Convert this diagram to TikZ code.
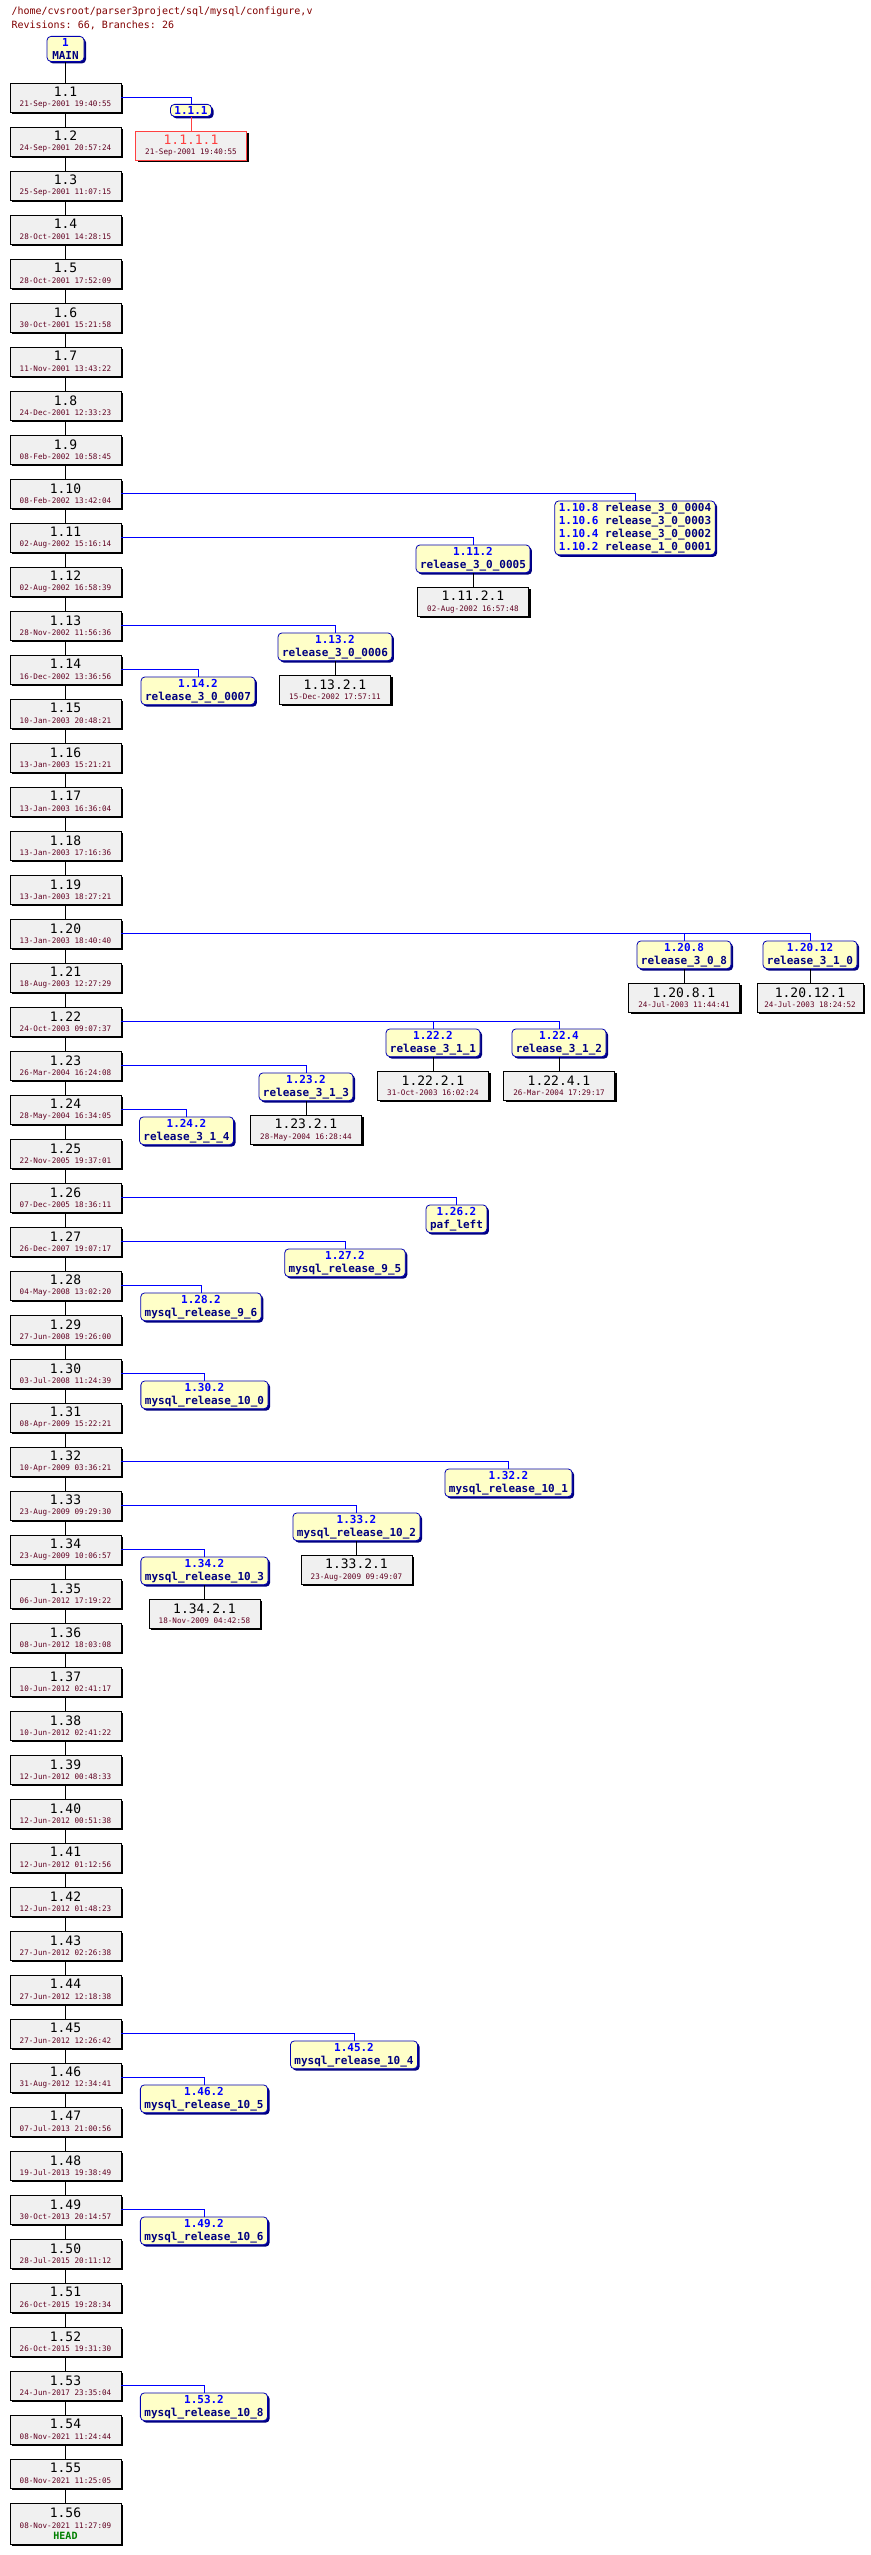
\documentclass[tikz,border=0pt]{standalone}
\usepackage{fontspec}
\setmonofont{DejaVu Sans Mono}
\usetikzlibrary{positioning,shadows}
\definecolor{bgrey}{HTML}{F0F0F0}
\definecolor{tagfill}{HTML}{FFFFC8}
\definecolor{tagnum}{HTML}{0000FF}
\definecolor{tagname}{HTML}{000080}
\definecolor{datec}{HTML}{600020}
\definecolor{titlec}{HTML}{800000}
\definecolor{deadred}{HTML}{FF4040}
\definecolor{headg}{HTML}{008000}
\newcommand\revf{\fontsize{13}{13}\selectfont\ttfamily}
\newcommand\datef{\fontsize{7.6}{8}\selectfont\ttfamily}
\newcommand\rv[2]{{\revf #1}\\[-1.5pt]{\color{datec}\datef #2}}
\newcommand\tg[2]{{\color{tagnum}#1}\\{#2}}
\tikzset{
  revbox/.style={draw=black,line width=0.8pt,fill=bgrey,minimum width=111pt,minimum height=29pt,inner xsep=4pt,inner ysep=0pt,align=center,
    drop shadow={shadow xshift=2pt,shadow yshift=-2pt,fill=black,opacity=1}},
  tagbox/.style={draw=tagname!60!blue,line width=0.8pt,fill=tagfill,rounded corners=4pt,inner xsep=4pt,inner ysep=2pt,align=center,anchor=north,
    font=\fontsize{11}{13}\selectfont\ttfamily\bfseries,text=tagname,
    drop shadow={shadow xshift=2pt,shadow yshift=-2pt,fill=tagname,opacity=1}},
  trunk/.style={draw=black,line width=0.8pt},
  brl/.style={draw=tagnum,line width=0.8pt},
  below14/.style={below=14pt of #1}
}
\begin{document}
\begin{tikzpicture}[x=1pt,y=-1pt]
\useasboundingbox (0,0) rectangle (870,2555);
\node[anchor=west,text=titlec,font=\fontsize{10}{10}\selectfont\ttfamily] (title1) at (8,12) {/home/cvsroot/parser3project/sql/mysql/configure,v};
\node[anchor=west,text=titlec,font=\fontsize{10}{10}\selectfont\ttfamily] (title2) at (8,25) {Revisions: 66, Branches: 26};
\node[tagbox,minimum width=37pt] (main) at (65.5,36) {\tg{1}{MAIN}};
\foreach \i/\d in {1/21-Sep-2001 19:40:55,2/24-Sep-2001 20:57:24,3/25-Sep-2001 11:07:15,4/28-Oct-2001 14:28:15,5/28-Oct-2001 17:52:09,6/30-Oct-2001 15:21:58,7/11-Nov-2001 13:43:22,8/24-Dec-2001 12:33:23,9/08-Feb-2002 10:58:45,10/08-Feb-2002 13:42:04,11/02-Aug-2002 15:16:14,12/02-Aug-2002 16:58:39,13/28-Nov-2002 11:56:36,14/16-Dec-2002 13:36:56,15/10-Jan-2003 20:48:21,16/13-Jan-2003 15:21:21,17/13-Jan-2003 16:36:04,18/13-Jan-2003 17:16:36,19/13-Jan-2003 18:27:21,20/13-Jan-2003 18:40:40,21/18-Aug-2003 12:27:29,22/24-Oct-2003 09:07:37,23/26-Mar-2004 16:24:08,24/28-May-2004 16:34:05,25/22-Nov-2005 19:37:01,26/07-Dec-2005 18:36:11,27/26-Dec-2007 19:07:17,28/04-May-2008 13:02:20,29/27-Jun-2008 19:26:00,30/03-Jul-2008 11:24:39,31/08-Apr-2009 15:22:21,32/10-Apr-2009 03:36:21,33/23-Aug-2009 09:29:30,34/23-Aug-2009 10:06:57,35/06-Jun-2012 17:19:22,36/08-Jun-2012 18:03:08,37/10-Jun-2012 02:41:17,38/10-Jun-2012 02:41:22,39/12-Jun-2012 00:48:33,40/12-Jun-2012 00:51:38,41/12-Jun-2012 01:12:56,42/12-Jun-2012 01:48:23,43/27-Jun-2012 02:26:38,44/27-Jun-2012 12:18:38,45/27-Jun-2012 12:26:42,46/31-Aug-2012 12:34:41,47/07-Jul-2013 21:00:56,48/19-Jul-2013 19:38:49,49/30-Oct-2013 20:14:57,50/28-Jul-2015 20:11:12,51/26-Oct-2015 19:28:34,52/26-Oct-2015 19:31:30,53/24-Jun-2017 23:35:04,54/08-Nov-2021 11:24:44,55/08-Nov-2021 11:25:05}
  \node[revbox] (r\i) at (65.5,{97.5+(\i-1)*44}) {\rv{1.\i}{\d}};
\node[revbox,minimum height=41pt] (r56) at (65.5,2523.5) {{\revf 1.56}\\[-1.5pt]{\color{datec}\datef 08-Nov-2021 11:27:09}\\[-1pt]{\color{headg}\fontsize{10}{10}\selectfont\ttfamily\bfseries HEAD}};
\draw[trunk] (main) -- (r1);
\foreach \i [evaluate=\i as \j using int(\i+1)] in {1,...,55}
  \draw[trunk] (r\i) -- (r\j);
% branch 1.1.1
\node[tagbox] (t111) at (191,104) {{\color{tagnum}1.1.1}};
\node[revbox,draw=deadred,below14=t111] (r1111) {{\revf\color{deadred}1.1.1.1}\\[-1.5pt]{\color{datec}\datef 21-Sep-2001 19:40:55}};
\draw[brl] (r1.east) -| (t111.north);
\draw[draw=deadred,line width=0.8pt] (t111) -- (r1111);
% 1.10
\node[tagbox,align=left] (t110) at (635,500.5) {{\color{tagnum}1.10.8} release\_3\_0\_0004\\{\color{tagnum}1.10.6} release\_3\_0\_0003\\{\color{tagnum}1.10.4} release\_3\_0\_0002\\{\color{tagnum}1.10.2} release\_1\_0\_0001};
\draw[brl] (r10.east) -| (t110.north);
% 1.11
\node[tagbox] (t1112) at (473,544.5) {\tg{1.11.2}{release\_3\_0\_0005}};
\node[revbox,below14=t1112] (r11121) {\rv{1.11.2.1}{02-Aug-2002 16:57:48}};
\draw[brl] (r11.east) -| (t1112.north);
\draw[trunk] (t1112) -- (r11121);
% 1.13
\node[tagbox] (t1132) at (335,632.5) {\tg{1.13.2}{release\_3\_0\_0006}};
\node[revbox,below14=t1132] (r11321) {\rv{1.13.2.1}{15-Dec-2002 17:57:11}};
\draw[brl] (r13.east) -| (t1132.north);
\draw[trunk] (t1132) -- (r11321);
% 1.14
\node[tagbox] (t1142) at (198,676.5) {\tg{1.14.2}{release\_3\_0\_0007}};
\draw[brl] (r14.east) -| (t1142.north);
% 1.20
\node[tagbox] (t1208) at (684,940.5) {\tg{1.20.8}{release\_3\_0\_8}};
\node[revbox,below14=t1208] (r12081) {\rv{1.20.8.1}{24-Jul-2003 11:44:41}};
\node[tagbox] (t12012) at (810,940.5) {\tg{1.20.12}{release\_3\_1\_0}};
\node[revbox,minimum width=106pt,below14=t12012] (r120121) {\rv{1.20.12.1}{24-Jul-2003 18:24:52}};
\draw[brl] (r20.east) -| (t1208.north);
\draw[brl] (r20.east) -| (t12012.north);
\draw[trunk] (t1208) -- (r12081);
\draw[trunk] (t12012) -- (r120121);
% 1.22
\node[tagbox] (t1222) at (433,1028.5) {\tg{1.22.2}{release\_3\_1\_1}};
\node[revbox,below14=t1222] (r12221) {\rv{1.22.2.1}{31-Oct-2003 16:02:24}};
\node[tagbox] (t1224) at (559,1028.5) {\tg{1.22.4}{release\_3\_1\_2}};
\node[revbox,below14=t1224] (r12241) {\rv{1.22.4.1}{26-Mar-2004 17:29:17}};
\draw[brl] (r22.east) -| (t1222.north);
\draw[brl] (r22.east) -| (t1224.north);
\draw[trunk] (t1222) -- (r12221);
\draw[trunk] (t1224) -- (r12241);
% 1.23
\node[tagbox] (t1232) at (306,1072.5) {\tg{1.23.2}{release\_3\_1\_3}};
\node[revbox,below14=t1232] (r12321) {\rv{1.23.2.1}{28-May-2004 16:28:44}};
\draw[brl] (r23.east) -| (t1232.north);
\draw[trunk] (t1232) -- (r12321);
% 1.24
\node[tagbox] (t1242) at (186.5,1116.5) {\tg{1.24.2}{release\_3\_1\_4}};
\draw[brl] (r24.east) -| (t1242.north);
% 1.26 - 1.34
\node[tagbox] (t1262) at (456.5,1204.5) {\tg{1.26.2}{paf\_left}};
\draw[brl] (r26.east) -| (t1262.north);
\node[tagbox] (t1272) at (345,1248.5) {\tg{1.27.2}{mysql\_release\_9\_5}};
\draw[brl] (r27.east) -| (t1272.north);
\node[tagbox] (t1282) at (201,1292.5) {\tg{1.28.2}{mysql\_release\_9\_6}};
\draw[brl] (r28.east) -| (t1282.north);
\node[tagbox] (t1302) at (204.5,1380.5) {\tg{1.30.2}{mysql\_release\_10\_0}};
\draw[brl] (r30.east) -| (t1302.north);
\node[tagbox] (t1322) at (508.5,1468.5) {\tg{1.32.2}{mysql\_release\_10\_1}};
\draw[brl] (r32.east) -| (t1322.north);
\node[tagbox] (t1332) at (356.5,1512.5) {\tg{1.33.2}{mysql\_release\_10\_2}};
\node[revbox,below14=t1332] (r13321) {\rv{1.33.2.1}{23-Aug-2009 09:49:07}};
\draw[brl] (r33.east) -| (t1332.north);
\draw[trunk] (t1332) -- (r13321);
\node[tagbox] (t1342) at (204.5,1556.5) {\tg{1.34.2}{mysql\_release\_10\_3}};
\node[revbox,below14=t1342] (r13421) {\rv{1.34.2.1}{18-Nov-2009 04:42:58}};
\draw[brl] (r34.east) -| (t1342.north);
\draw[trunk] (t1342) -- (r13421);
% 1.45 - 1.53
\node[tagbox] (t1452) at (354,2040.5) {\tg{1.45.2}{mysql\_release\_10\_4}};
\draw[brl] (r45.east) -| (t1452.north);
\node[tagbox] (t1462) at (204,2084.5) {\tg{1.46.2}{mysql\_release\_10\_5}};
\draw[brl] (r46.east) -| (t1462.north);
\node[tagbox] (t1492) at (204,2216.5) {\tg{1.49.2}{mysql\_release\_10\_6}};
\draw[brl] (r49.east) -| (t1492.north);
\node[tagbox] (t1532) at (204,2392.5) {\tg{1.53.2}{mysql\_release\_10\_8}};
\draw[brl] (r53.east) -| (t1532.north);
\end{tikzpicture}
\end{document}
